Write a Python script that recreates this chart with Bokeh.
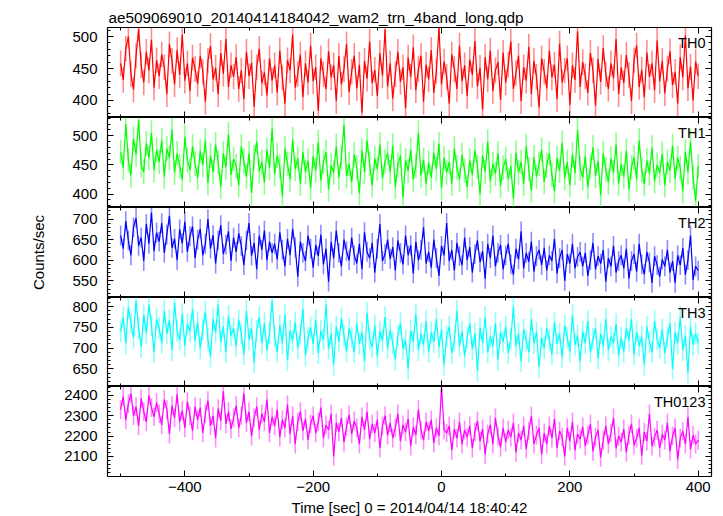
from bokeh.plotting import figure
from bokeh.layouts import column
from bokeh.models import (Range1d, LinearAxis, SingleIntervalTicker, Label,
                          CustomJSTickFormatter, ColumnDataSource)
from bokeh.embed import file_html
from bokeh.resources import INLINE

TITLE = "ae509069010_20140414184042_wam2_trn_4band_long.qdp"
X_LABEL = "Time [sec] 0 = 2014/04/14 18:40:42"
Y_LABEL = "Counts/sec"
BANDS = ["TH0", "TH1", "TH2", "TH3", "TH0123"]

TIME_START = -500
TIME_STEP = 4
N_BINS = 226
time = [TIME_START + TIME_STEP * i for i in range(N_BINS)]

TH0 = [458, 432, 481, 500, 441, 417, 470, 512, 455, 428, 476, 447, 495, 420, 463,
       438, 472, 452, 410, 488, 462, 425, 479, 440, 503, 431, 458, 415, 467, 449,
       426, 470, 445, 398, 462, 485, 433, 451, 410, 474, 442, 496, 421, 455, 437,
       468, 418, 447, 402, 476, 438, 459, 390, 452, 481, 427, 444, 408, 466, 431,
       455, 412, 478, 436, 395, 463, 447, 503, 420, 441, 472, 405, 458, 428, 486,
       430, 452, 384, 466, 441, 418, 477, 436, 455, 399, 470, 425, 449, 488, 413,
       445, 470, 419, 456, 381, 462, 434, 492, 427, 448, 407, 474, 439, 511, 422,
       458, 403, 441, 476, 429, 452, 388, 467, 437, 483, 416, 449, 470, 398, 456,
       433, 479, 412, 446, 514, 425, 461, 437, 395, 472, 449, 418, 486, 430, 455,
       407, 464, 440, 493, 422, 451, 386, 468, 433, 478, 415, 447, 460, 401, 475,
       428, 456, 492, 418, 443, 470, 399, 452, 431, 484, 410, 462, 437, 389, 466,
       445, 419, 478, 436, 456, 402, 489, 428, 447, 466, 393, 455, 432, 508, 421,
       460, 438, 412, 474, 447, 392, 465, 429, 482, 441, 418, 458, 435, 496, 410,
       452, 427, 471, 440, 399, 463, 486, 421, 448, 405, 475, 437, 458, 416, 494,
       430, 462, 411, 450, 477, 424, 445, 395, 468, 436, 502, 419, 453, 400, 461,
       438]

TH1 = [472, 445, 520, 458, 432, 495, 468, 527, 450, 438, 487, 462, 505, 441, 476,
       455, 492, 430, 478, 462, 510, 437, 470, 448, 425, 498, 458, 441, 482, 452,
       428, 474, 450, 492, 419, 466, 438, 485, 455, 412, 470, 446, 503, 433, 460,
       448, 415, 482, 457, 430, 470, 402, 463, 490, 439, 455, 420, 476, 445, 512,
       434, 466, 447, 396, 478, 452, 425, 494, 443, 461, 418, 472, 438, 457, 410,
       465, 440, 489, 423, 455, 472, 408, 450, 437, 482, 428, 463, 519, 431, 452,
       420, 468, 446, 401, 475, 438, 492, 452, 415, 461, 443, 485, 427, 456, 470,
       438, 483, 412, 450, 466, 394, 458, 440, 476, 425, 448, 505, 432, 459, 418,
       454, 428, 471, 443, 486, 410, 462, 437, 455, 418, 478, 446, 425, 467, 440,
       412, 458, 433, 475, 447, 400, 466, 438, 490, 422, 452, 435, 470, 414, 445,
       460, 425, 448, 392, 471, 437, 455, 418, 482, 443, 406, 463, 430, 452, 476,
       421, 449, 470, 433, 405, 462, 440, 488, 427, 455, 415, 468, 436, 510, 444,
       428, 465, 412, 447, 480, 431, 457, 398, 470, 442, 420, 461, 437, 485, 418,
       452, 430, 474, 408, 446, 463, 425, 492, 441, 417, 458, 435, 480, 422, 450,
       436, 469, 415, 455, 440, 483, 426, 462, 445, 405, 473, 438, 490, 429, 388,
       448]

TH2 = [660, 628, 695, 648, 612, 680, 702, 635, 655, 598, 688, 640, 716, 622, 667,
       645, 690, 618, 662, 708, 630, 652, 600, 675, 641, 693, 620, 658, 682, 605,
       650, 676, 612, 640, 700, 628, 661, 592, 648, 685, 615, 638, 670, 598, 655,
       620, 665, 635, 588, 648, 690, 611, 642, 578, 660, 625, 672, 600, 645, 618,
       640, 602, 668, 625, 585, 652, 612, 676, 631, 560, 645, 618, 598, 660, 628,
       582, 637, 610, 662, 590, 628, 548, 645, 605, 672, 618, 585, 650, 622, 600,
       655, 612, 592, 640, 578, 668, 620, 605, 642, 570, 628, 688, 598, 615, 650,
       603, 632, 575, 648, 618, 590, 660, 612, 636, 568, 645, 600, 625, 680, 592,
       620, 582, 650, 605, 562, 635, 612, 690, 598, 625, 575, 642, 610, 588, 655,
       600, 632, 570, 615, 648, 595, 622, 555, 640, 605, 660, 585, 618, 637, 578,
       612, 640, 590, 565, 628, 602, 670, 580, 618, 596, 645, 572, 610, 625, 588,
       630, 575, 612, 598, 652, 568, 605, 625, 550, 615, 592, 640, 580, 608, 620,
       585, 618, 562, 600, 642, 578, 610, 592, 625, 548, 605, 585, 635, 570, 598,
       612, 580, 628, 555, 598, 615, 572, 640, 590, 566, 620, 595, 545, 610, 588,
       560, 602, 585, 625, 570, 598, 545, 612, 588, 630, 565, 600, 660, 552, 585,
       575]

TH3 = [740, 775, 712, 798, 760, 725, 815, 748, 702, 780, 735, 805, 755, 690, 770,
       748, 712, 790, 735, 768, 695, 810, 742, 720, 782, 705, 758, 740, 795, 718,
       762, 700, 745, 788, 722, 680, 770, 738, 805, 715, 752, 690, 778, 730, 748,
       705, 768, 735, 685, 790, 720, 748, 665, 742, 775, 712, 760, 695, 738, 815,
       728, 690, 755, 712, 780, 670, 742, 718, 762, 700, 735, 795, 682, 725, 750,
       710, 768, 688, 742, 720, 805, 698, 735, 660, 752, 715, 772, 730, 692, 748,
       725, 690, 760, 710, 738, 668, 785, 722, 702, 755, 680, 740, 718, 775, 700,
       745, 712, 672, 730, 760, 698, 720, 650, 742, 715, 782, 695, 735, 708, 765,
       690, 738, 715, 770, 702, 745, 660, 728, 752, 688, 718, 790, 705, 740, 680,
       725, 760, 698, 735, 645, 748, 712, 775, 690, 728, 705, 760, 672, 738, 715,
       752, 688, 722, 800, 705, 735, 668, 745, 718, 690, 770, 712, 738, 655, 725,
       700, 748, 720, 685, 762, 710, 735, 678, 755, 725, 692, 780, 708, 730, 668,
       740, 712, 765, 690, 722, 748, 675, 735, 705, 770, 695, 728, 712, 758, 682,
       725, 692, 748, 718, 770, 685, 740, 705, 728, 660, 752, 715, 690, 765, 722,
       700, 745, 688, 725, 760, 650, 738, 712, 775, 695, 730, 640, 752, 708, 735,
       712]

TH0123 = [2330, 2395, 2280, 2360, 2410, 2300, 2345, 2250, 2385, 2320, 2270, 2400, 2340, 2295, 2365,
          2310, 2255, 2380, 2330, 2210, 2350, 2290, 2405, 2270, 2325, 2240, 2370, 2300, 2225, 2345,
          2280, 2340, 2215, 2310, 2375, 2250, 2300, 2190, 2335, 2275, 2420, 2260, 2320, 2235, 2290,
          2350, 2240, 2300, 2410, 2265, 2320, 2200, 2290, 2345, 2230, 2310, 2270, 2380, 2215, 2295,
          2250, 2330, 2195, 2280, 2240, 2355, 2210, 2300, 2160, 2270, 2320, 2225, 2285, 2180, 2260,
          2300, 2215, 2270, 2340, 2190, 2255, 2230, 2310, 2100, 2265, 2220, 2290, 2170, 2245, 2305,
          2210, 2275, 2240, 2160, 2295, 2230, 2320, 2185, 2260, 2215, 2280, 2140, 2250, 2300, 2205,
          2265, 2190, 2240, 2310, 2175, 2255, 2220, 2285, 2150, 2245, 2205, 2330, 2230, 2180, 2270,
          2225, 2280, 2165, 2240, 2200, 2440, 2230, 2215, 2250, 2130, 2235, 2190, 2270, 2160, 2230,
          2195, 2250, 2140, 2220, 2275, 2175, 2235, 2110, 2210, 2255, 2160, 2290, 2200, 2145, 2240,
          2170, 2230, 2195, 2265, 2120, 2215, 2180, 2250, 2135, 2225, 2300, 2160, 2205, 2240, 2110,
          2215, 2160, 2250, 2190, 2285, 2140, 2225, 2195, 2100, 2240, 2175, 2270, 2130, 2210, 2185,
          2245, 2150, 2205, 2260, 2125, 2195, 2230, 2095, 2180, 2250, 2160, 2215, 2290, 2140, 2200,
          2170, 2235, 2120, 2205, 2260, 2155, 2190, 2240, 2105, 2220, 2175, 2310, 2150, 2195, 2230,
          2140, 2210, 2180, 2265, 2125, 2200, 2240, 2085, 2190, 2225, 2160, 2295, 2135, 2205, 2160,
          2180]

SERIES = [TH0, TH1, TH2, TH3, TH0123]
ERRORS = [20, 21, 24, 26, 46]
COLORS = ["#ff0000", "#00ff00", "#0000ff", "#00ffff", "#ff00ff"]
Y_RANGES = [(373.4, 514.1), (377.0, 531.3), (509.5, 728.0), (607.5, 822.0), (2001.0, 2444.0)]
Y_INTERVALS = [50, 50, 50, 50, 100]
X_RANGE = (-520.5, 420.7)

FONT = "Liberation Sans"
FRAME_W = 604
FRAME_HS = [90, 90, 90, 89, 90]

minus_fmt = CustomJSTickFormatter(code="return tick < 0 ? '\u2212' + Math.abs(tick) : '' + tick;")


def tick_axis(axis, show_labels):
    axis.major_tick_in = 6
    axis.major_tick_out = 0
    axis.minor_tick_in = 3
    axis.minor_tick_out = 0
    axis.major_tick_line_color = "black"
    axis.minor_tick_line_color = "black"
    axis.axis_line_color = None
    if show_labels:
        axis.major_label_text_font = FONT
        axis.major_label_text_font_size = "15px"
        axis.major_label_text_color = "black"
    else:
        axis.major_label_text_font_size = "0px"
        axis.major_label_text_color = None
        axis.major_label_standoff = 0
    return axis


x_range = Range1d(*X_RANGE)
figs = []
n = len(BANDS)
for k in range(n):
    fh = FRAME_HS[k]
    p = figure(frame_width=FRAME_W, frame_height=fh, x_range=x_range,
               y_range=Range1d(*Y_RANGES[k]), output_backend="svg",
               toolbar_location=None, x_axis_location=None, y_axis_location=None,
               min_border_left=107, min_border_right=4,
               min_border_top=27 if k == 0 else 0,
               min_border_bottom=40 if k == n - 1 else 0)
    p.grid.grid_line_color = None
    p.outline_line_color = "black"
    p.outline_line_width = 1.2
    p.background_fill_color = "white"
    p.border_fill_color = "white"

    yt = SingleIntervalTicker(interval=Y_INTERVALS[k], num_minor_ticks=5)
    xt = SingleIntervalTicker(interval=200, num_minor_ticks=2)

    left = tick_axis(LinearAxis(ticker=yt), True)
    left.major_label_standoff = 10
    if k == 2:
        left.axis_label = Y_LABEL
        left.axis_label_text_font = FONT
        left.axis_label_text_font_size = "15px"
        left.axis_label_text_font_style = "normal"
        left.axis_label_text_color = "black"
        left.axis_label_standoff = 22
    p.add_layout(left, "left")

    p.add_layout(tick_axis(LinearAxis(ticker=yt), False), "right")
    p.add_layout(tick_axis(LinearAxis(ticker=xt), False), "above")

    bottom = tick_axis(LinearAxis(ticker=xt, formatter=minus_fmt), k == n - 1)
    if k == n - 1:
        bottom.major_label_standoff = 5
        bottom.axis_label = X_LABEL
        bottom.axis_label_text_font = FONT
        bottom.axis_label_text_font_size = "15px"
        bottom.axis_label_text_font_style = "normal"
        bottom.axis_label_text_color = "black"
        bottom.axis_label_standoff = 4
    p.add_layout(bottom, "below")

    if k == 0:
        p.title.text = TITLE
        p.title.text_font = FONT
        p.title.text_font_size = "15.3px"
        p.title.text_font_style = "normal"
        p.title.text_color = "black"
        p.title.align = "left"
        p.title.offset = 1
        p.title.standoff = 3

    vals = SERIES[k]
    err = ERRORS[k]
    src = ColumnDataSource(dict(t=time, v=vals,
                                lo=[v - err for v in vals],
                                hi=[v + err for v in vals]))
    p.segment(x0="t", y0="lo", x1="t", y1="hi", source=src,
              line_color=COLORS[k], line_alpha=0.45, line_width=1.6)
    p.line(x="t", y="v", source=src, line_color=COLORS[k], line_width=1.2)

    p.add_layout(Label(x=FRAME_W - 6, y=fh - 15.5, x_units="screen", y_units="screen",
                       text=BANDS[k], text_align="right", text_baseline="alphabetic",
                       text_font=FONT, text_font_size="14.5px", text_color="black"))
    figs.append(p)

layout = column(*figs, spacing=0)
open("out.html", "w").write(file_html(layout, INLINE))
